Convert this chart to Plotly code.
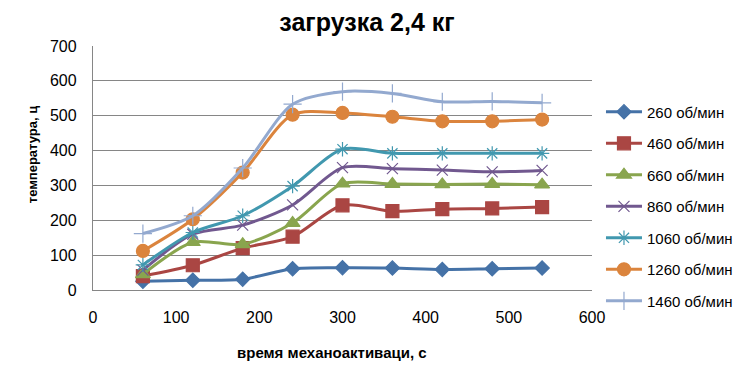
import plotly.graph_objects as go

time_s = [60, 120, 180, 240, 300, 360, 420, 480, 540]
series_names = ["260 об/мин", "460 об/мин", "660 об/мин", "860 об/мин",
                "1060 об/мин", "1260 об/мин", "1460 об/мин"]
t260 = [25, 28, 31, 61, 64, 63, 59, 61, 63]
t460 = [40, 71, 120, 153, 243, 226, 232, 234, 238]
t660 = [45, 137, 131, 192, 305, 304, 303, 304, 302]
t860 = [57, 160, 186, 244, 351, 348, 344, 339, 343]
t1060 = [72, 165, 213, 298, 404, 392, 392, 392, 392]
t1260 = [112, 203, 337, 503, 508, 497, 484, 484, 489]
t1460 = [162, 213, 350, 533, 569, 564, 540, 541, 537]
series_values = [t260, t460, t660, t860, t1060, t1260, t1460]

colors = ["#4572A7", "#AA4643", "#89A54E", "#71588F", "#4198AF", "#DB843D", "#93A9CF"]
symbols = ["diamond", "square", "triangle-up", "x-thin-open", "asterisk-open", "circle", "cross-thin-open"]
sizes = [11, 13, 13, 11, 12, 13, 13]

fig = go.Figure()
for i, (name, vals, c, s, sz) in enumerate(zip(series_names, series_values, colors, symbols, sizes)):
    fig.add_trace(go.Scatter(
        x=time_s, y=vals, name=name, mode="lines+markers", legendgroup=f"g{i}",
        line=dict(color=c, width=3, shape="spline", smoothing=0.8),
        marker=dict(symbol=s, size=sz, color=c, line=dict(color=c, width=1.2)),
    ))

font = "Liberation Sans, Arial, sans-serif"
fig.update_layout(
    width=750, height=368,
    margin=dict(l=85, r=166, t=38, b=86),
    paper_bgcolor="white", plot_bgcolor="white",
    title=dict(text="<b>загрузка 2,4 кг</b>", xref="container", x=0.4787, xanchor="center",
               yref="container", y=0.962, yanchor="middle",
               font=dict(family=font, size=25, color="black")),
    font=dict(family=font, size=13, color="black"),
    showlegend=True,
    legend=dict(x=1.018, xanchor="left", y=0.342, yanchor="middle",
                font=dict(family=font, size=15, color="black"),
                tracegroupgap=9, itemwidth=36, bgcolor="rgba(0,0,0,0)"),
    xaxis=dict(range=[0, 600], dtick=100, showgrid=False, zeroline=False, automargin=False,
               showline=True, linecolor="#868686", linewidth=1.3,
               ticks="outside", ticklen=13, tickcolor="rgba(0,0,0,0)",
               tickfont=dict(family=font, size=16)),
    yaxis=dict(range=[0, 700], dtick=100, showgrid=True, gridcolor="#868686", gridwidth=1.3,
               zeroline=False, showline=True, linecolor="#868686", linewidth=1.3, automargin=False,
               ticks="outside", ticklen=12, tickcolor="rgba(0,0,0,0)",
               tickfont=dict(family=font, size=16)),
    annotations=[
        dict(text="<b>время механоактиваци, с</b>", xref="paper", yref="paper",
             x=0.479, y=-0.258, xanchor="center", yanchor="middle", showarrow=False,
             font=dict(family=font, size=15, color="black")),
        dict(text="<b>температура, ц</b>", xref="paper", yref="paper", textangle=-90,
             x=-0.122, y=0.553, xanchor="center", yanchor="middle", showarrow=False,
             font=dict(family=font, size=13, color="black")),
    ],
)
fig.write_html("out.html")
